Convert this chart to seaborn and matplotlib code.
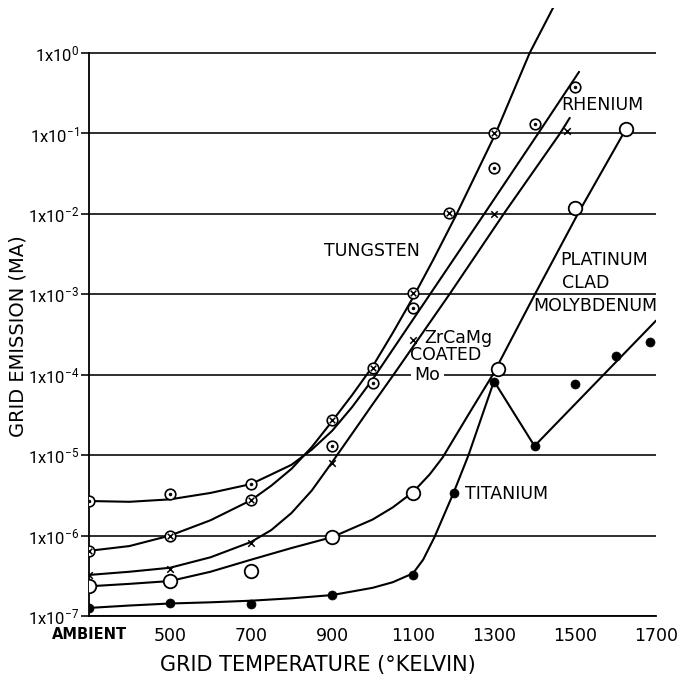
import matplotlib
matplotlib.use("Agg")
import matplotlib.pyplot as plt
from matplotlib import font_manager
import seaborn as sns

# ---------------- data ----------------
decades = [1e-7, 1e-6, 1e-5, 1e-4, 1e-3, 1e-2, 1e-1, 1e0]
decade_labels = [r"$\mathregular{1x10^{-7}}$", r"$\mathregular{1x10^{-6}}$",
                 r"$\mathregular{1x10^{-5}}$", r"$\mathregular{1x10^{-4}}$",
                 r"$\mathregular{1x10^{-3}}$", r"$\mathregular{1x10^{-2}}$",
                 r"$\mathregular{1x10^{-1}}$", r"$\mathregular{1x10^{0}}$"]
temp_ticks = [300, 500, 700, 900, 1100, 1300, 1500, 1700]
temp_labels = ["AMBIENT", "500", "700", "900", "1100", "1300", "1500", "1700"]

# measured points (markers)
tungsten_T = [300, 500, 700, 900, 1000, 1100, 1190, 1300]
tungsten_ma = [6.4e-7, 9.9e-7, 2.77e-6, 2.74e-5, 1.21e-4, 1.04e-3, 1.03e-2, 1.01e-1]

rhenium_T = [300, 500, 700, 900, 1000, 1100, 1300, 1400, 1500]
rhenium_ma = [2.7e-6, 3.3e-6, 4.4e-6, 1.3e-5, 7.9e-5, 6.7e-4, 3.7e-2, 0.131, 0.378]

zrcamg_T = [300, 500, 700, 900, 1100, 1300, 1480]
zrcamg_ma = [3.2e-7, 3.8e-7, 8.1e-7, 8.0e-6, 2.7e-4, 1.0e-2, 0.107]

ptmo_T = [300, 500, 700, 900, 1100, 1310, 1500, 1625]
ptmo_ma = [2.36e-7, 2.7e-7, 3.6e-7, 9.6e-7, 3.4e-6, 1.18e-4, 1.18e-2, 0.114]

titanium_T = [300, 500, 700, 900, 1100, 1200, 1300, 1400, 1500, 1600, 1685]
titanium_ma = [1.26e-7, 1.45e-7, 1.41e-7, 1.82e-7, 3.24e-7, 3.4e-6, 8.1e-5, 1.3e-5,
               7.7e-5, 1.71e-4, 2.55e-4]

# hand-drawn fitted curves
tungsten_fit_T = [300, 400, 500, 600, 700, 750, 800, 850, 900, 950, 1000, 1050,
                  1100, 1150, 1205, 1304, 1388, 1450]
tungsten_fit_ma = [6.46e-7, 7.41e-7, 1.0e-6, 1.55e-6, 2.75e-6, 4.17e-6, 6.76e-6,
                   1.26e-5, 2.63e-5, 5.62e-5, 1.26e-4, 3.31e-4, 9.12e-4, 2.69e-3,
                   9.33e-3, 1.0e-1, 1.0, 4.0]

rhenium_fit_T = [300, 400, 500, 600, 700, 750, 800, 850, 900, 950, 1000, 1142,
                 1276, 1409, 1510]
rhenium_fit_ma = [2.69e-6, 2.63e-6, 2.82e-6, 3.39e-6, 4.37e-6, 5.75e-6, 7.59e-6,
                  1.17e-5, 2.0e-5, 3.98e-5, 8.71e-5, 1.0e-3, 1.0e-2, 1.0e-1, 0.583]

zrcamg_fit_T = [300, 400, 500, 600, 700, 750, 800, 850, 900, 950, 1000, 1052, 1190,
                1324, 1463, 1487]
zrcamg_fit_ma = [3.24e-7, 3.55e-7, 3.98e-7, 5.37e-7, 8.32e-7, 1.17e-6, 1.91e-6,
                 3.63e-6, 8.13e-6, 1.86e-5, 4.27e-5, 1.0e-4, 1.0e-3, 1.0e-2, 1.0e-1,
                 0.156]

ptmo_fit_T = [300, 400, 500, 600, 700, 800, 900, 1000, 1050, 1100, 1141, 1173, 1240,
              1297, 1401, 1507, 1626]
ptmo_fit_ma = [2.34e-7, 2.51e-7, 2.72e-7, 3.55e-7, 5.01e-7, 7.0e-7, 9.55e-7,
               1.58e-6, 2.24e-6, 3.47e-6, 5.75e-6, 9.33e-6, 3.39e-5, 1.0e-4, 1.0e-3,
               1.0e-2, 0.114]

titanium_fit_T = [300, 400, 500, 600, 700, 800, 900, 1000, 1050, 1100, 1125, 1153,
                  1200, 1237, 1300, 1400, 1700]
titanium_fit_ma = [1.26e-7, 1.35e-7, 1.43e-7, 1.48e-7, 1.55e-7, 1.66e-7, 1.82e-7,
                   2.24e-7, 2.63e-7, 3.39e-7, 5.01e-7, 9.55e-7, 3.39e-6, 1.0e-5,
                   8.32e-5, 1.3e-5, 4.7e-4]

# ---------------- style ----------------
sns.set_theme(style="white")
plt.rcParams["font.family"] = ["DejaVu Sans"]
plt.rcParams["mathtext.default"] = "regular"


def pick_font(names, default="DejaVu Sans"):
    for n in names:
        try:
            font_manager.findfont(n, fallback_to_default=False)
            return n
        except Exception:
            continue
    return default


narrow = pick_font(["Liberation Sans Narrow", "Roboto", "Noto Sans"])

fig = plt.figure(figsize=(6.84, 6.80), dpi=100)
ax = fig.add_axes([89 / 684, 64 / 680, 567 / 684, 608 / 680])
ax.set_yscale("log")
ax.set_xlim(300, 1700)
ax.set_ylim(1e-7, 3.63)

LW = 1.5
K = "black"

# gridlines at each decade
for d in decades:
    ax.axhline(d, color=K, lw=1.15, zorder=1)

# fitted curves
for T, v in [(tungsten_fit_T, tungsten_fit_ma), (rhenium_fit_T, rhenium_fit_ma),
             (zrcamg_fit_T, zrcamg_fit_ma), (ptmo_fit_T, ptmo_fit_ma),
             (titanium_fit_T, titanium_fit_ma)]:
    sns.lineplot(x=T, y=v, ax=ax, color=K, lw=LW, estimator=None, sort=False,
                 zorder=2, legend=False)

# markers
# tungsten: circle with x
sns.scatterplot(x=tungsten_T, y=tungsten_ma, ax=ax, marker="o", s=58, color="white",
                edgecolor=K, linewidth=1.2, zorder=4, legend=False)
sns.scatterplot(x=tungsten_T, y=tungsten_ma, ax=ax, marker="x", s=16, color=K,
                linewidth=1.1, zorder=5, legend=False)
# rhenium: circle with dot
sns.scatterplot(x=rhenium_T, y=rhenium_ma, ax=ax, marker="o", s=58, color="white",
                edgecolor=K, linewidth=1.2, zorder=4, legend=False)
sns.scatterplot(x=rhenium_T, y=rhenium_ma, ax=ax, marker="o", s=4, color=K,
                edgecolor=K, linewidth=0.5, zorder=5, legend=False)
# ZrCaMg coated Mo: x
sns.scatterplot(x=zrcamg_T, y=zrcamg_ma, ax=ax, marker="x", s=22, color=K,
                linewidth=1.1, zorder=5, legend=False)
# platinum clad molybdenum: open circle
sns.scatterplot(x=ptmo_T, y=ptmo_ma, ax=ax, marker="o", s=95, color="white",
                edgecolor=K, linewidth=1.3, zorder=4, legend=False)
# titanium: filled dot
sns.scatterplot(x=titanium_T, y=titanium_ma, ax=ax, marker="o", s=42, color=K,
                edgecolor=K, linewidth=0.5, zorder=5, legend=False)

# in-plot labels
tkw = dict(fontsize=12.5, color=K, ha="left", va="center", zorder=6)
ax.text(881, 3.5e-3, "TUNGSTEN", **tkw)
ax.text(1467, 0.225, "RHENIUM", **tkw)
ax.text(1463, 2.67e-3, "PLATINUM", **tkw)
ax.text(1467, 1.38e-3, "CLAD", **tkw)
ax.text(1396, 7.1e-4, "MOLYBDENUM", **tkw)
ax.text(1129, 2.9e-4, "ZrCaMg", **tkw)
ax.text(1092, 1.76e-4, "COATED", **tkw)
ax.text(1104, 1.0e-4, "Mo", fontsize=12.5, color=K, ha="left", va="center",
        zorder=3, bbox=dict(facecolor="white", edgecolor="none", pad=2.5))
ax.text(1228, 3.3e-6, "TITANIUM", **tkw)

# axes cosmetics
for side in ["top", "right"]:
    ax.spines[side].set_visible(False)
ax.spines["left"].set_color(K)
ax.spines["bottom"].set_color(K)
ax.spines["left"].set_linewidth(1.3)
ax.spines["bottom"].set_linewidth(1.3)
ax.spines["left"].set_bounds(1e-7, 1.0)

ax.set_yticks(decades)
ax.set_yticklabels(decade_labels)
ax.yaxis.set_minor_locator(matplotlib.ticker.NullLocator())
ax.tick_params(axis="y", which="major", left=True, length=6, width=1.15, color=K,
               pad=1, labelsize=12, labelcolor=K)
for lab in ax.get_yticklabels():
    lab.set_fontfamily(narrow)
ax.set_xticks(temp_ticks)
ax.set_xticklabels(temp_labels)
ax.tick_params(axis="x", which="major", bottom=False, length=0, pad=8,
               labelsize=12.5, labelcolor=K)
for lab in ax.get_xticklabels():
    if lab.get_text() == "AMBIENT":
        lab.set_fontsize(10.5)
        lab.set_fontweight("bold")

ax.set_xlabel("GRID TEMPERATURE (°KELVIN)", fontsize=15, color=K)
ax.xaxis.set_label_coords(0.404, -0.064)
ax.set_ylabel("GRID EMISSION (MA)", fontsize=14, color=K)
ax.yaxis.set_label_coords(-0.108, 0.46)

fig.savefig("out.png", dpi=100, facecolor="white")
